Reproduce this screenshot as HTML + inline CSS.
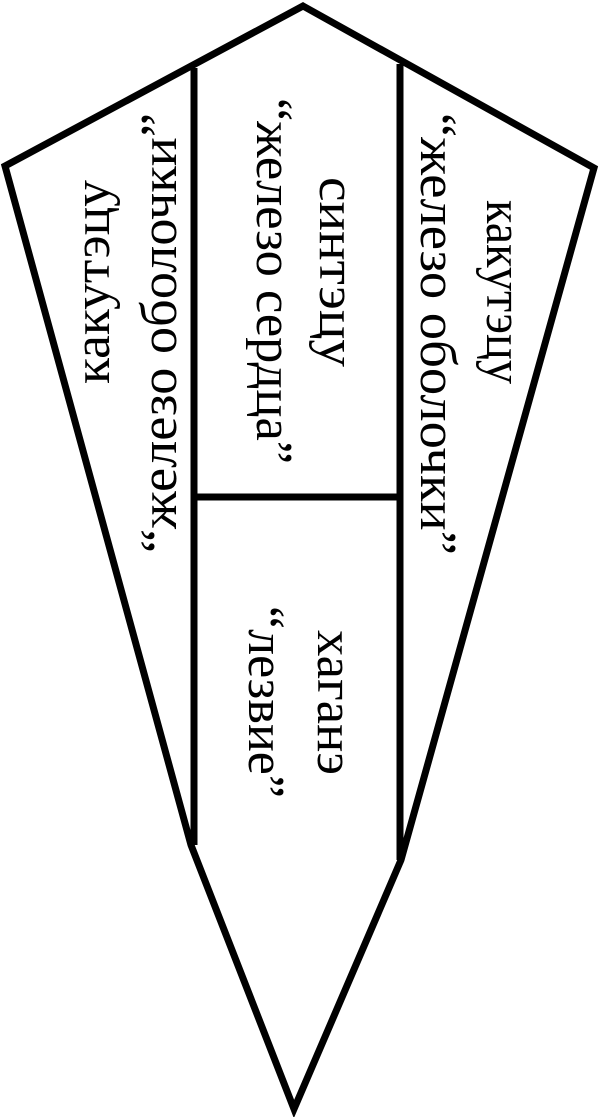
<!DOCTYPE html>
<html><head><meta charset="utf-8"><style>
html,body{margin:0;padding:0;background:#fff;}
svg{display:block;}
svg text{font-family:"Liberation Serif","Times New Roman",serif;font-size:52px;fill:#000;}
</style></head><body>
<svg width="600" height="1117" viewBox="0 0 600 1117" xmlns="http://www.w3.org/2000/svg">
<g fill="none" stroke="#000" stroke-width="7" stroke-linejoin="miter">
<polygon points="303,6 594,168 401,860 294,1109 191,845 5,166"/>
<line x1="194" y1="68" x2="194" y2="845"/>
<line x1="400" y1="64" x2="400" y2="860"/>
<line x1="194" y1="497" x2="400" y2="497"/>
</g>
<g font-family="Liberation Serif, Times New Roman, serif" font-size="52">
<text font-family="Liberation Serif, serif" transform="translate(109,384) rotate(-90)" textLength="204" lengthAdjust="spacingAndGlyphs">какутэцу</text>
<text font-family="Liberation Serif, serif" transform="translate(176,553) rotate(-90)" textLength="440" lengthAdjust="spacingAndGlyphs">“железо оболочки”</text>
<text font-family="Liberation Serif, serif" transform="translate(487,200) rotate(90)" textLength="184" lengthAdjust="spacingAndGlyphs">какутэцу</text>
<text font-family="Liberation Serif, serif" transform="translate(421,113) rotate(90)" textLength="442" lengthAdjust="spacingAndGlyphs">“железо оболочки”</text>
<text font-family="Liberation Serif, serif" transform="translate(320,177) rotate(90)" textLength="190" lengthAdjust="spacingAndGlyphs">синтэцу</text>
<text font-family="Liberation Serif, serif" transform="translate(257,98) rotate(90)" textLength="366" lengthAdjust="spacingAndGlyphs">“железо сердца”</text>
<text font-family="Liberation Serif, serif" transform="translate(318,630) rotate(90)" textLength="145" lengthAdjust="spacingAndGlyphs">хаганэ</text>
<text font-family="Liberation Serif, serif" transform="translate(249,606) rotate(90)" textLength="192" lengthAdjust="spacingAndGlyphs">“лезвие”</text>
</g>
</svg>
</body></html>
